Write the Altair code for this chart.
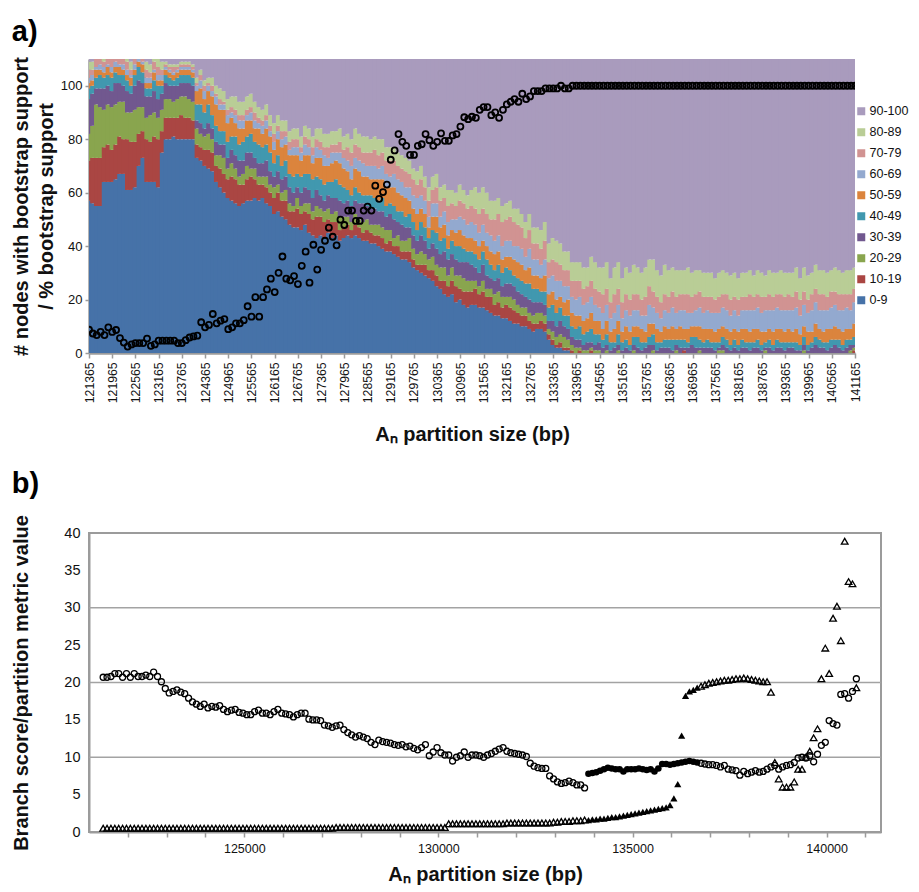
import altair as alt
import pandas as pd

FONT = "Liberation Sans"
GREY = "#9b9b9b"
TXT = "#111111"

# ---------------- panel a data ----------------
support_classes = ["0-9", "10-19", "20-29", "30-39", "40-49",
                   "50-59", "60-69", "70-79", "80-89", "90-100"]
class_colors = ["#4672A8", "#AA4643", "#89A54E", "#71588F", "#4198AF",
                "#DB843D", "#93A9CF", "#D19392", "#B9CD96", "#A99BBD"]
Y_TOP_A = 110
PART_STEP = 100
partition_bp = [121365 + PART_STEP * i for i in range(199)]
tick_a = [121365 + 600 * k for k in range(34)]

nodes_0_9 = [
57,56,55,55,64,64,64,65,67,67,
61,61,62,70,73,64,64,64,62,75,
80,80,81,80,80,80,80,80,73,72,
70,69,68,64,62,60,58,57,56,55,
56,57,57,58,57,58,56,55,52,53,
51,50,48,47,47,46,48,45,44,43,
44,43,45,43,44,42,43,44,43,44,
43,42,42,41,41,40,39,38,38,37,
36,35,35,34,32,31,30,29,28,27,
25,24,22,21,22,19,20,18,17,18,
18,17,17,16,15,14,14,13,13,12,
11,11,10,10,9,8,9,9,8,5,
3,2,2,1,1,0,0,0,0,0,
0,0,0,0,0,0,0,0,0,0,
0,0,0,0,0,0,0,0,0,0,
0,0,0,0,0,0,0,0,0,0,
0,0,0,0,0,0,0,0,0,0,
0,0,0,0,0,0,0,0,0,0,
0,0,0,0,0,0,0,0,0,0,
0,0,0,0,0,0,0,0,0]

nodes_10_19 = [
15,17,18,18,13,14,12,13,14,13,
19,18,17,12,10,16,15,17,18,8,
8,8,7,8,9,8,8,7,5,5,
6,7,7,6,7,7,7,9,9,8,
7,8,9,7,6,5,6,5,6,7,
6,7,5,6,7,6,5,7,6,8,
7,6,5,6,5,4,4,4,3,4,
4,3,4,4,3,4,4,3,4,3,
4,3,3,4,3,2,3,4,3,4,
4,3,5,4,5,6,4,5,6,5,
6,5,6,5,6,4,5,4,5,5,
5,4,4,4,3,3,2,3,3,2,
2,1,2,1,1,1,0,1,0,0,
1,0,0,0,0,0,0,0,0,0,
0,0,0,0,0,0,0,0,0,0,
0,0,0,0,1,0,0,0,0,0,
0,0,0,0,0,0,0,0,0,0,
0,0,0,0,0,0,0,0,0,0,
0,0,0,0,0,0,0,0,0,0,
0,0,0,0,0,0,0,0,1]

nodes_20_29 = [
10,12,20,19,14,15,16,15,13,14,
10,11,12,10,9,8,10,9,8,8,
7,7,6,7,7,8,7,7,6,5,
5,6,5,4,5,6,4,5,4,3,
4,5,3,4,3,3,4,3,4,3,
3,4,3,2,4,3,3,4,3,4,
3,4,4,3,4,5,4,3,3,4,
3,4,4,3,4,4,4,5,4,3,
4,4,4,5,4,4,5,4,4,5,
4,5,5,4,5,4,5,5,4,4,
3,3,4,3,3,4,4,4,3,4,
4,3,3,3,3,3,4,3,3,2,
3,3,3,4,3,2,2,1,1,1,
1,1,1,0,1,0,0,1,0,0,
0,1,0,0,0,0,1,0,0,0,
0,0,1,0,0,0,0,0,1,0,
0,0,0,1,1,0,0,0,0,0,
0,0,0,0,0,1,0,0,0,0,
0,0,0,0,0,1,0,0,0,0,
0,0,0,0,0,0,0,1,1]

nodes_30_39 = [
13,12,6,7,8,7,6,8,7,6,
8,7,9,10,9,8,7,8,7,6,
6,5,6,5,5,5,6,6,3,4,
3,4,4,5,4,5,4,5,5,6,
5,5,6,4,5,5,6,5,4,5,
5,5,6,5,4,5,6,5,5,6,
5,4,5,6,5,6,5,6,6,5,
6,7,5,6,6,5,6,5,6,7,
5,6,5,4,5,5,6,5,4,5,
6,5,6,6,5,6,5,6,7,6,
5,5,6,5,4,5,5,4,5,5,
5,5,5,4,5,5,4,4,4,3,
4,4,5,4,4,3,3,3,2,3,
2,2,3,2,2,1,2,2,1,2,
1,2,2,1,2,3,2,1,2,2,
2,1,2,2,1,2,3,2,1,2,
2,2,1,1,2,2,1,2,1,2,
2,1,2,2,1,1,2,1,2,2,
1,2,2,1,1,2,1,2,3,2,
2,1,2,3,2,1,2,2,1]

nodes_40_49 = [
4,3,4,5,4,4,5,4,3,4,
4,3,4,5,4,3,3,4,5,3,
3,3,2,3,3,3,3,3,6,7,
6,7,5,6,5,5,6,5,7,6,
7,6,7,6,7,6,6,7,5,6,
5,6,5,6,5,6,5,6,7,5,
6,6,5,6,7,6,6,4,4,5,
4,3,4,5,4,4,5,4,4,5,
4,5,4,5,5,4,5,5,4,5,
6,5,5,4,5,5,6,5,4,5,
5,5,5,6,5,4,5,5,6,5,
4,5,5,5,6,5,5,4,5,5,
6,5,5,4,5,4,4,5,4,4,
5,4,3,3,4,3,2,4,3,3,
2,3,4,3,2,3,4,3,2,3,
3,4,2,3,3,2,3,4,3,2,
3,2,3,2,3,3,2,3,2,3,
2,3,2,3,2,2,3,2,3,2,
3,2,2,3,2,3,2,2,3,3,
2,3,3,2,3,2,3,2,3]

nodes_50_59 = [
2,2,3,2,2,3,2,2,3,2,
2,3,2,2,3,2,2,3,2,2,
2,2,2,2,2,2,2,2,5,6,
5,5,7,8,8,8,7,7,5,6,
5,6,5,5,6,5,6,6,5,6,
7,6,7,8,7,6,7,7,6,7,
8,7,6,7,7,8,7,7,6,7,
8,7,7,6,7,8,7,7,6,7,
7,6,7,5,5,6,5,5,4,5,
6,5,5,5,4,5,6,5,5,5,
5,5,4,5,5,6,5,5,4,5,
6,6,6,5,6,5,5,5,6,5,
5,5,4,5,6,5,5,4,5,5,
6,5,5,4,5,4,5,5,4,5,
5,4,4,5,4,5,4,5,4,5,
4,5,4,5,4,5,4,4,5,5,
4,5,4,5,4,4,5,4,5,4,
5,4,5,4,5,4,4,5,4,5,
4,5,4,5,4,4,5,4,5,4,
4,5,4,5,4,5,4,4,5]

nodes_60_69 = [
2,2,1,2,2,1,2,2,1,2,
2,1,2,2,1,2,2,1,2,2,
1,1,1,1,1,1,1,1,2,3,
3,2,2,3,2,2,3,2,3,3,
3,2,3,3,2,3,3,2,3,3,
3,3,2,3,3,3,4,3,3,4,
3,4,3,4,3,4,4,4,5,4,
4,5,4,5,5,4,5,5,4,5,
5,5,4,5,5,6,5,5,4,5,
5,4,5,5,4,5,5,6,5,6,
6,5,6,5,6,5,6,5,6,6,
5,6,6,5,7,6,6,5,6,6,
6,7,6,6,5,6,6,7,6,6,
6,6,5,6,6,5,6,6,5,6,
6,6,6,5,6,7,6,6,5,6,
6,7,6,6,7,6,5,6,7,6,
7,6,7,6,7,7,6,7,6,7,
7,8,7,8,7,8,7,8,8,7,
8,7,8,8,7,8,7,8,8,7,
8,7,8,8,7,8,8,7,8]

nodes_70_79 = [
3,2,3,3,2,3,3,2,3,3,
3,2,3,3,2,3,2,3,3,2,
1,1,2,1,1,1,1,1,1,2,
2,1,2,1,2,1,2,2,2,2,
2,2,2,3,2,2,2,2,3,2,
3,2,3,3,3,2,3,3,3,3,
3,3,4,3,3,4,3,5,5,5,
5,4,5,5,6,5,5,5,6,5,
5,5,6,5,6,5,6,5,6,5,
6,6,5,6,6,5,6,6,6,6,
6,7,6,7,6,8,8,9,8,9,
9,8,8,7,7,6,6,6,7,6,
6,7,6,6,6,6,7,6,6,6,
6,6,6,7,6,6,7,6,6,6,
6,6,6,6,7,7,6,6,6,6,
6,6,6,6,6,7,6,6,6,6,
5,6,5,6,5,6,6,5,6,5,
5,6,5,5,6,5,6,5,5,6,
5,6,5,6,6,5,5,6,5,6,
6,5,6,5,6,6,5,6,5]

nodes_80_89 = [
3,3,3,3,3,3,3,3,3,3,
3,3,3,3,3,3,3,3,3,3,
1,1,1,1,1,1,1,1,2,2,
2,2,3,3,4,4,4,4,5,5,
5,5,5,4,4,4,4,4,4,4,
4,4,4,4,4,4,4,4,4,4,
5,5,5,5,5,5,5,5,5,6,
5,6,6,5,5,6,5,5,5,5,
5,5,5,5,4,5,5,4,5,5,
5,5,5,6,5,5,6,5,5,6,
8,8,8,8,7,7,6,6,6,6,
5,6,5,6,6,6,6,7,7,7,
8,8,8,7,7,7,7,7,8,7,
9,10,9,10,10,9,10,10,9,10,
10,11,10,10,11,10,12,10,10,11,
10,9,10,9,9,10,9,9,8,9,
9,9,8,9,9,8,9,9,8,9,
9,9,8,9,9,8,9,9,8,9,
9,8,9,9,8,9,9,8,9,9,
9,9,8,9,9,8,9,9,8]

pct_bootstrap_support = [
8.7,7.3,6.7,7.9,6.7,9.6,7.9,8.6,5.6,3.9,
2.4,3.2,3.7,3.7,3.7,5.4,2.7,3.2,4.6,4.6,
4.6,4.6,4.6,3.7,3.7,4.8,5.8,6.2,6.5,11.5,
9.6,10.5,14.6,11.1,12.1,12.7,8.9,9.6,11.1,11.1,
12.3,17.5,13.6,20.9,13.6,20.9,23.8,27.8,22.8,30.0,
36.1,27.8,27.2,28.8,25.8,32.6,37.9,26.3,40.5,31.2,
38.6,42.0,46.9,43.5,40.3,49.9,47.9,53.3,53.3,49.4,
49.4,53.3,54.8,53.3,62.6,57.7,60.2,63.0,72.3,75.8,
81.9,79.0,77.5,74.1,74.1,77.5,78.1,81.9,79.6,77.5,
79.0,82.2,79.4,79.4,81.4,81.9,84.7,88.2,87.5,88.4,
88,91,92,92,89,90,88,91,93,94,
95,94,97,95,96,98,98,98,99,99,
99,99,100,99,99,100,100,100,100,100,
100,100,100,100,100,100,100,100,100,100,
100,100,100,100,100,100,100,100,100,100,
100,100,100,100,100,100,100,100,100,100,
100,100,100,100,100,100,100,100,100,100,
100,100,100,100,100,100,100,100,100,100,
100,100,100,100,100,100,100,100,100,100,
100,100,100,100,100,100,100,100,100]

# ---------------- panel b data ----------------
partition_metric = [
20.7,20.7,20.8,21.2,21.2,20.7,21.2,20.7,21.2,20.8,
20.8,21.0,20.8,21.4,20.8,20.1,19.2,18.6,18.8,19.0,
18.7,18.5,17.9,17.4,17.1,16.8,17.1,16.6,16.8,16.7,
16.9,16.4,16.1,16.3,16.4,16.0,15.9,15.7,15.7,16.1,
16.3,15.9,15.9,15.7,16.1,16.4,15.9,15.8,15.7,15.4,
15.7,15.9,15.9,15.1,15.0,15.0,14.9,14.3,14.2,14.0,
14.2,14.3,13.7,13.3,13.0,12.7,12.9,12.7,12.5,12.0,
11.7,12.3,12.1,12.0,11.9,11.7,11.6,11.7,11.4,11.5,
11.2,11.0,11.3,11.7,10.2,10.7,11.3,10.6,10.3,10.3,
9.5,10.0,10.2,10.7,10.0,10.3,10.3,10.2,10.0,10.3,
10.5,10.8,11.1,11.3,10.8,10.6,10.5,10.4,10.3,10.1,
9.2,8.8,8.6,8.5,8.5,7.5,7.1,6.7,6.5,6.6,
6.8,6.6,6.3,6.3,5.9,7.8,7.9,8.0,8.2,8.4,
8.6,8.5,8.4,8.4,8.1,8.4,8.4,8.4,8.5,8.4,
8.3,8.4,8.1,8.5,9.1,9.1,9.0,9.1,9.2,9.3,
9.4,9.5,9.4,9.3,9.2,9.1,9.0,9.0,8.9,8.7,
8.9,8.4,8.3,8.2,7.6,8.1,7.8,8.0,8.2,8.0,
8.1,8.4,8.7,8.9,8.4,8.7,8.9,9.0,9.3,9.9,
10.0,9.9,10.2,9.4,10.4,11.6,12.0,14.9,14.5,14.3,
18.4,18.5,17.9,18.8,20.5]

branch_score = [
0.5,0.5,0.5,0.5,0.5,0.5,0.5,0.5,0.5,0.5,
0.5,0.5,0.5,0.5,0.5,0.5,0.5,0.5,0.5,0.5,
0.5,0.5,0.5,0.5,0.5,0.5,0.5,0.5,0.5,0.5,
0.5,0.5,0.5,0.5,0.5,0.5,0.5,0.5,0.5,0.5,
0.5,0.5,0.5,0.5,0.5,0.5,0.5,0.5,0.5,0.5,
0.5,0.5,0.5,0.5,0.5,0.5,0.5,0.5,0.5,0.5,
0.6,0.6,0.6,0.6,0.6,0.6,0.6,0.6,0.6,0.6,
0.6,0.6,0.6,0.6,0.6,0.6,0.6,0.6,0.6,0.6,
0.6,0.6,0.6,0.6,0.6,0.6,0.6,0.6,0.6,1.1,
1.1,1.1,1.1,1.1,1.1,1.1,1.1,1.1,1.1,1.1,
1.1,1.1,1.1,1.1,1.2,1.2,1.2,1.2,1.2,1.2,
1.2,1.2,1.2,1.2,1.2,1.2,1.3,1.3,1.4,1.4,
1.4,1.5,1.5,1.5,1.6,1.6,1.7,1.7,1.8,1.8,
1.9,2.0,2.0,2.1,2.2,2.3,2.4,2.5,2.6,2.7,
2.8,2.9,3.0,3.1,3.2,3.3,3.6,4.5,6.4,12.9,
18.2,18.8,19.0,19.3,19.5,19.7,19.9,20.0,20.1,20.2,
20.3,20.3,20.4,20.5,20.5,20.6,20.5,20.4,20.3,20.2,
20.1,20.1,18.7,9.3,7.1,6.0,6.0,6.0,6.7,8.4,
8.4,10.0,10.8,12.6,13.8,20.5,24.6,21.2,28.6,30.2,
25.6,38.9,33.5,33.2,19.3]

FILLED_FROM = 133865   # partition sizes drawn with solid markers
FILLED_TO = 136665
grid_levels_b = [10, 20, 30]

X_TITLE = "A\u2099 partition size (bp)"
Y_TITLE_A = ["# nodes with bootstrap support", "/ % bootstrap support"]
Y_TITLE_B = "Branch score/partition metric value"

# ---------------- build tables ----------------
class_counts = [nodes_0_9, nodes_10_19, nodes_20_29, nodes_30_39, nodes_40_49,
                nodes_50_59, nodes_60_69, nodes_70_79, nodes_80_89]
HALF = 70  # half bar width in bp (overlap hides seams; later bars cover earlier)
n_a = min(len(c) for c in class_counts)
rows = []
for i in range(n_a):
    x = partition_bp[i]
    base = 0
    for label, counts in zip(support_classes[:-1], class_counts):
        v = counts[i]
        y0, y1 = min(base, Y_TOP_A), min(base + v, Y_TOP_A)
        if y1 > y0:
            rows.append({"x0": x - HALF, "x1": x + HALF, "cls": label, "y0": y0, "y1": y1})
        base += v
    if base < Y_TOP_A:
        rows.append({"x0": x - HALF, "x1": x + HALF, "cls": "90-100",
                     "y0": base, "y1": Y_TOP_A})
df_a = pd.DataFrame(rows)
df_pct = pd.DataFrame({"x": partition_bp[:len(pct_bootstrap_support)],
                       "pct": pct_bootstrap_support})

n_b = min(len(partition_metric), len(branch_score))
recs = []
for i in range(n_b):
    x = partition_bp[i]
    filled = FILLED_FROM <= x <= FILLED_TO
    recs.append({"x": x, "value": partition_metric[i], "marker": "circle", "filled": filled})
    recs.append({"x": x, "value": branch_score[i], "marker": "triangle", "filled": filled})
df_b = pd.DataFrame(recs)
df_grid = pd.DataFrame({"g": grid_levels_b})

# ---------------- panel a ----------------
xa_scale = alt.Scale(domain=[121365, 141165], nice=False, zero=False)
ya_scale = alt.Scale(domain=[0, Y_TOP_A], nice=False)
xa_axis = alt.Axis(values=tick_a, format="d", labelAngle=-90, labelFontSize=12.2,
                   labelPadding=4, tickSize=5, tickColor=GREY, tickWidth=1.5,
                   domainColor=GREY, domainWidth=2.5, labelFlush=False,
                   labelOverlap=False, grid=False, titleFontSize=20,
                   titleFontWeight="bold", titlePadding=22)
ya_axis = alt.Axis(values=[0, 20, 40, 60, 80, 100], labelFontSize=13, tickSize=4,
                   labelPadding=3, tickColor=GREY, tickWidth=1.5, domainColor=GREY,
                   domainWidth=2.5, grid=False, titleFontSize=20,
                   titleFontWeight="bold", titlePadding=4, titleLineHeight=24.5)

bars = alt.Chart(df_a).mark_bar(clip=True, strokeWidth=0).encode(
    x=alt.X("x0:Q", scale=xa_scale, axis=xa_axis, title=X_TITLE),
    x2="x1:Q",
    y=alt.Y("y0:Q", scale=ya_scale, axis=ya_axis, title=Y_TITLE_A),
    y2="y1:Q",
    color=alt.Color("cls:N",
                    scale=alt.Scale(domain=support_classes[::-1], range=class_colors[::-1]),
                    legend=alt.Legend(title=None, orient="none", legendX=766, legendY=46,
                                      symbolType="square", symbolSize=64,
                                      symbolStrokeWidth=0, labelFontSize=12.5,
                                      labelOffset=2, rowPadding=8, padding=0,
                                      labelColor=TXT)),
)
pts_a = alt.Chart(df_pct).mark_point(shape="circle", filled=False, color="black",
                                     strokeWidth=1.8, size=36, opacity=1, clip=True).encode(
    x=alt.X("x:Q", scale=xa_scale, axis=xa_axis, title=X_TITLE),
    y=alt.Y("pct:Q", scale=ya_scale, axis=ya_axis, title=Y_TITLE_A),
)
panel_a = alt.layer(bars, pts_a).properties(
    width=766, height=294,
    view=alt.ViewBackground(stroke="transparent"),
    title=alt.TitleParams("a)", anchor="start", frame="bounds", fontSize=29,
                          fontWeight="bold", offset=10, color="black"),
)

# ---------------- panel b ----------------
xb_scale = alt.Scale(domain=[121000, 141400], nice=False, zero=False)
yb_scale = alt.Scale(domain=[0, 40], nice=False)
xb_axis = alt.Axis(values=list(range(122000, 142000, 1000)), format="d",
                   labelExpr="datum.value % 5000 === 0 ? datum.label : ''",
                   labelFontSize=12.5, labelPadding=5, tickSize=5, tickColor=GREY,
                   tickWidth=1.5, domainColor=GREY, domainWidth=2, labelFlush=False,
                   labelOverlap=False, grid=False, titleFontSize=20,
                   titleFontWeight="bold", titlePadding=10)
yb_axis = alt.Axis(values=[0, 5, 10, 15, 20, 25, 30, 35, 40], labelFontSize=14.5,
                   ticks=False, labelPadding=9, domainColor=GREY, domainWidth=2,
                   grid=False, titleFontSize=20, titleFontWeight="bold", titlePadding=32)

ex_b = alt.X("x:Q", scale=xb_scale, axis=xb_axis, title=X_TITLE)
ey_b = alt.Y("value:Q", scale=yb_scale, axis=yb_axis, title=Y_TITLE_B)

grid_b = alt.Chart(df_grid).mark_rule(color="#a3a3a3", strokeWidth=1.6).encode(
    y=alt.Y("g:Q", scale=yb_scale, axis=yb_axis, title=Y_TITLE_B))

base_b = alt.Chart(df_b)
open_c = base_b.transform_filter("datum.marker == 'circle' && !datum.filled").mark_point(
    shape="circle", filled=False, color="black", strokeWidth=1.3, size=36, opacity=1
).encode(x=ex_b, y=ey_b)
fill_c = base_b.transform_filter("datum.marker == 'circle' && datum.filled").mark_point(
    shape="circle", filled=True, color="black", size=44, opacity=1
).encode(x=ex_b, y=ey_b)
open_t = base_b.transform_filter("datum.marker == 'triangle' && !datum.filled").mark_point(
    shape="triangle-up", filled=False, color="black", strokeWidth=1.3, size=44, opacity=1
).encode(x=ex_b, y=ey_b)
fill_t = base_b.transform_filter("datum.marker == 'triangle' && datum.filled").mark_point(
    shape="triangle-up", filled=True, color="black", size=52, opacity=1
).encode(x=ex_b, y=ey_b)

panel_b = alt.layer(grid_b, open_c, fill_c, open_t, fill_t).properties(
    width=792, height=299,
    view=alt.ViewBackground(stroke=GREY, strokeWidth=2),
    title=alt.TitleParams("b)", anchor="start", frame="bounds", fontSize=29,
                          fontWeight="bold", offset=16, color="black"),
)

chart = alt.vconcat(panel_a, panel_b, spacing=22).resolve_scale(
    x="independent", y="independent", color="independent"
).resolve_legend(color="independent").properties(
    padding={"left": 2, "top": 9, "right": 0, "bottom": 0}
).configure(font=FONT).configure_axis(
    labelColor=TXT, titleColor=TXT, labelFont=FONT, titleFont=FONT
).configure_legend(labelFont=FONT).configure_title(font=FONT)

chart.save("out.html", embed_options={"renderer": "svg", "actions": False})
